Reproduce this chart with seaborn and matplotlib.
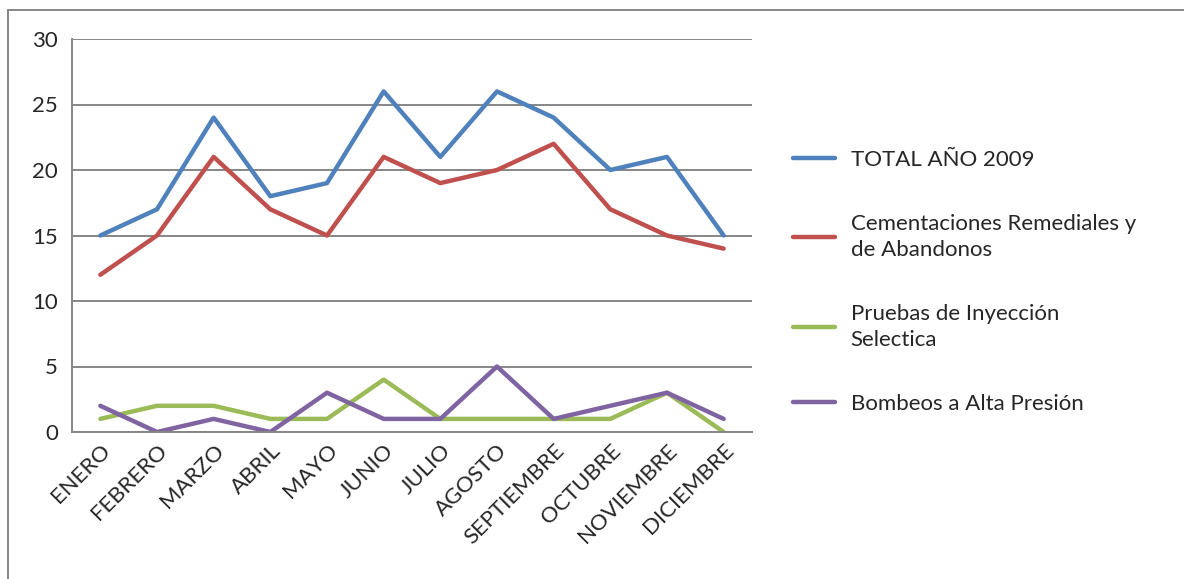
import matplotlib
matplotlib.use("Agg")
import matplotlib.pyplot as plt
import seaborn as sns
import pandas as pd
from matplotlib.patches import Rectangle
from matplotlib.ticker import FixedLocator

meses = ["ENERO", "FEBRERO", "MARZO", "ABRIL", "MAYO", "JUNIO", "JULIO",
         "AGOSTO", "SEPTIEMBRE", "OCTUBRE", "NOVIEMBRE", "DICIEMBRE"]
total_2009 = [15, 17, 24, 18, 19, 26, 21, 26, 24, 20, 21, 15]
cementaciones = [12, 15, 21, 17, 15, 21, 19, 20, 22, 17, 15, 14]
pruebas_inyeccion = [1, 2, 2, 1, 1, 4, 1, 1, 1, 1, 3, 0]
bombeos = [2, 0, 1, 0, 3, 1, 1, 5, 1, 2, 3, 1]

series = {
    "TOTAL AÑO 2009": total_2009,
    "Cementaciones Remediales y\nde Abandonos": cementaciones,
    "Pruebas de Inyección\nSelectica": pruebas_inyeccion,
    "Bombeos a Alta Presión": bombeos,
}
colores = ["#4F81BD", "#C0504D", "#9BBB59", "#8064A2"]

rows = []
for nombre, valores in series.items():
    for i, v in enumerate(valores):
        rows.append({"mes": i, "valor": v, "serie": nombre})
df = pd.DataFrame(rows)

sns.set_theme(style="white")
plt.rcParams["font.family"] = ["Lato", "DejaVu Sans"]

fig = plt.figure(figsize=(11.84, 5.79), dpi=100)
ax = fig.add_axes([72 / 1184, 1 - 432 / 579, 680 / 1184, 393 / 579])

sns.lineplot(data=df, x="mes", y="valor", hue="serie", palette=colores,
             linewidth=3.2, ax=ax, legend=True)

gris = "#868686"
ax.set_xlim(-0.5, len(meses) - 0.5)
ax.set_ylim(0, 30)
ax.set_yticks(range(0, 31, 5))
ax.yaxis.grid(True, color=gris, linewidth=1.4)
ax.set_axisbelow(True)
ax.set_xlabel("")
ax.set_ylabel("")

ax.set_xticks(range(len(meses)))
ax.set_xticklabels(meses)
ax.xaxis.set_minor_locator(FixedLocator([i - 0.5 for i in range(len(meses) + 1)]))
ax.tick_params(axis="x", which="major", length=0, pad=6, labelsize=16)
ax.tick_params(axis="x", which="minor", length=7, width=1.4, color=gris, direction="out")
ax.tick_params(axis="y", length=6, width=1.4, color=gris, direction="out", labelsize=16, pad=4)
plt.setp(ax.get_xticklabels(), rotation=45, ha="right", rotation_mode="anchor")

for lado in ["top", "right"]:
    ax.spines[lado].set_visible(False)
for lado in ["left", "bottom"]:
    ax.spines[lado].set_color(gris)
    ax.spines[lado].set_linewidth(1.4)

leg = ax.legend(loc="center left", bbox_to_anchor=(793 / 1184, 1 - 282 / 579),
                bbox_transform=fig.transFigure, frameon=False, fontsize=16,
                handlelength=1.9, handletextpad=0.7, labelspacing=2.0,
                borderpad=0, borderaxespad=0)
for linea in leg.get_lines():
    linea.set_linewidth(3.2)
for texto in leg.get_texts():
    texto.set_linespacing(1.35)

fig.patches.append(Rectangle((8 / 1184, -0.01), 1.2, 1 - 10 / 579 + 0.01,
                             transform=fig.transFigure, fill=False,
                             edgecolor=gris, linewidth=1.4))

fig.savefig("out.png", dpi=100)
